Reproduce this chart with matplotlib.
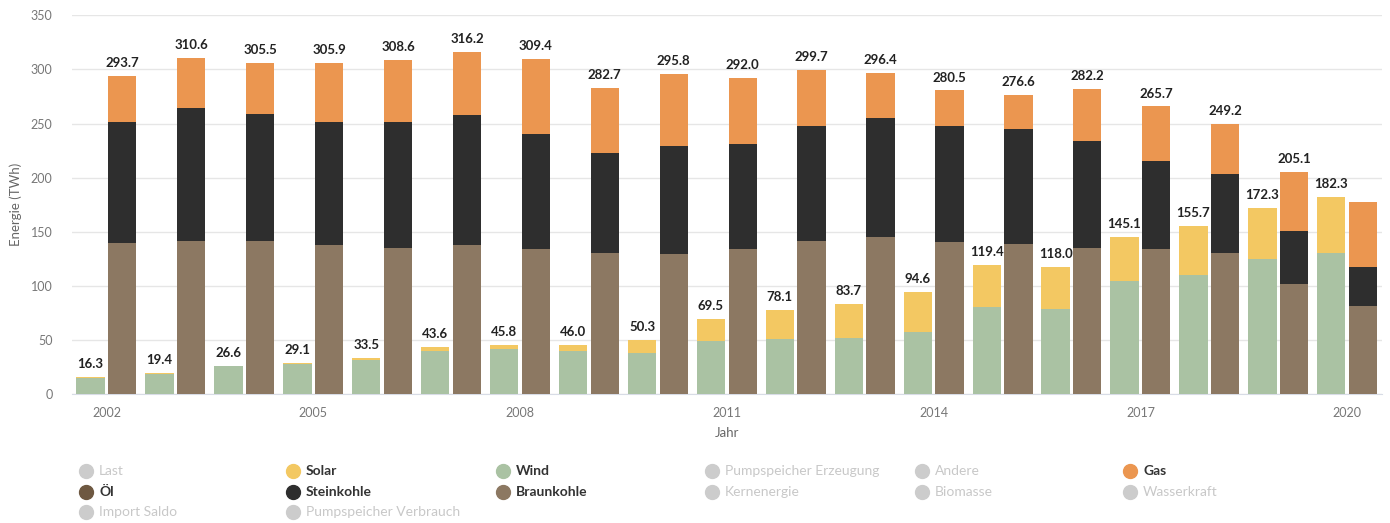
import numpy as np
import matplotlib.pyplot as plt
from matplotlib.lines import Line2D

plt.rcParams['font.family'] = ['Lato', 'DejaVu Sans']

years = list(range(2002, 2021))

# renewables (left bar of each year)
wind = [15.3, 18.7, 25.8, 28.0, 32.1, 40.0, 41.8, 39.8, 38.0, 49.2,
        50.7, 51.7, 57.8, 80.3, 79.0, 104.8, 109.8, 125.1, 130.1]
solar = [1.0, 0.7, 0.8, 1.1, 1.4, 3.6, 4.0, 6.2, 12.3, 20.3,
         27.4, 32.0, 36.8, 39.1, 39.0, 40.3, 45.9, 47.2, 52.2]

# fossil (right bar of each year)
braunkohle = [139.9, 141.7, 141.7, 137.5, 134.7, 137.5, 133.8, 130.7, 129.5, 133.8,
              141.7, 144.9, 140.8, 138.4, 134.7, 133.8, 130.7, 101.8, 81.5]
steinkohle = [111.4, 122.2, 116.7, 113.8, 116.6, 120.2, 106.1, 91.7, 99.9, 96.9,
              105.9, 109.8, 106.8, 106.4, 99.3, 81.2, 72.9, 49.2, 35.7]
gas = [42.4, 46.7, 47.1, 54.6, 57.3, 58.5, 69.5, 60.3, 66.4, 61.3,
       52.1, 41.7, 32.9, 31.8, 48.2, 50.7, 45.6, 54.1, 60.3]

legend_rows = [
    ['Last', 'Solar', 'Wind', 'Pumpspeicher Erzeugung', 'Andere', 'Gas'],
    ['Öl', 'Steinkohle', 'Braunkohle', 'Kernenergie', 'Biomasse', 'Wasserkraft'],
    ['Import Saldo', 'Pumpspeicher Verbrauch'],
]

colors = {
    'Wind': '#aac2a3',
    'Solar': '#f3c862',
    'Braunkohle': '#8c7862',
    'Steinkohle': '#2e2e2e',
    'Gas': '#eb9650',
    'Öl': '#6e5841',
}

x = np.array(years, dtype=float)
wind = np.array(wind)
solar = np.array(solar)
braunkohle = np.array(braunkohle)
steinkohle = np.array(steinkohle)
gas = np.array(gas)

fig = plt.figure(figsize=(13.9, 5.23), dpi=100)
ax = fig.add_axes([0.0518, 0.246, 0.9422, 0.725])

w = 0.41
off = 0.23

ax.bar(x - off, wind, w, color=colors['Wind'], zorder=3)
ax.bar(x - off, solar, w, bottom=wind, color=colors['Solar'], zorder=3)
ax.bar(x + off, braunkohle, w, color=colors['Braunkohle'], zorder=3)
ax.bar(x + off, steinkohle, w, bottom=braunkohle, color=colors['Steinkohle'], zorder=3)
ax.bar(x + off, gas, w, bottom=braunkohle + steinkohle, color=colors['Gas'], zorder=3)

left_tot = wind + solar
right_tot = braunkohle + steinkohle + gas

label_kw = dict(textcoords='offset points', ha='center', va='bottom',
                fontsize=9.5, fontweight='bold', color='#222222', zorder=2)
for i in range(len(years)):
    ax.annotate(f'{left_tot[i]:.1f}', (x[i] - off, left_tot[i]), xytext=(0, 5), **label_kw)
    # the 2020 total would sit on top of the solar label, leave it out
    if i < len(years) - 1:
        ax.annotate(f'{right_tot[i]:.1f}', (x[i] + off, right_tot[i]), xytext=(0, 5), **label_kw)

ax.set_xlim(2001.5, 2020.5)
ax.set_ylim(0, 350)
ax.set_yticks(range(0, 351, 50))
ax.set_xticks(years[::3])
ax.grid(axis='y', color='#e6e6e6', linewidth=1, zorder=0)
ax.set_axisbelow(True)
for s in ['top', 'right', 'left']:
    ax.spines[s].set_visible(False)
ax.spines['bottom'].set_color('#d8dce6')
ax.tick_params(axis='both', length=0, labelsize=9, labelcolor='#777777')
ax.tick_params(axis='x', pad=9)
ax.tick_params(axis='y', pad=14)
ax.set_xlabel('Jahr', fontsize=9.5, color='#666666', labelpad=6)
ax.set_ylabel('Energie (TWh)', fontsize=9.5, color='#666666', labelpad=6)

# legend drawn as a fixed grid of items
col_x = [86, 293, 503, 712, 922, 1130]
row_y = [471, 492, 512]
W, H = 1390, 523
for r, row in enumerate(legend_rows):
    for c, name in enumerate(row):
        active = name in colors
        mc = colors[name] if active else '#cccccc'
        tc = '#333333' if active else '#c8c8c8'
        fx = col_x[c] / W
        fy = 1 - row_y[r] / H
        fig.add_artist(Line2D([fx], [fy], marker='o', markersize=10,
                              color=mc, transform=fig.transFigure))
        fig.text(fx + 13 / W, fy, name, fontsize=10, color=tc, va='center', ha='left',
                 fontweight='bold' if active else 'normal')

fig.savefig('out.png', dpi=100)
